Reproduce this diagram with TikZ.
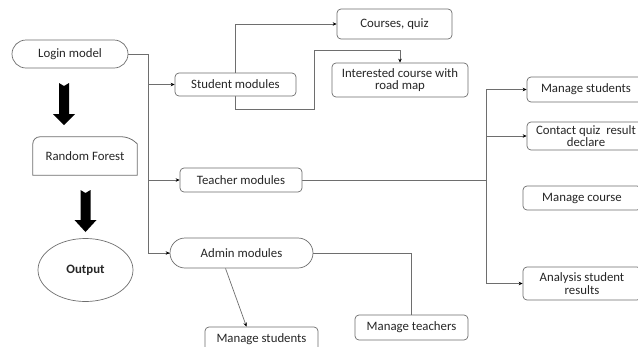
\documentclass[tikz,border=0pt]{standalone}
\usepackage{fontspec}
\setmainfont{Carlito}
\usetikzlibrary{arrows.meta,shapes.geometric,backgrounds}
\definecolor{edge}{HTML}{6E6E6E}
\definecolor{txt}{HTML}{262626}
\newcommand\blkarrow[4]{% x, top y, head start y, tip y
  \fill[black] (#1-5,#2) -- (#1,#2+3) -- (#1+5,#2) -- (#1+5,#3) -- (#1+11,#3)
    -- (#1,#4) -- (#1-11,#3) -- (#1-5,#3) -- cycle;}
\begin{document}
\begin{tikzpicture}[x=1pt,y=-1pt,
  font=\fontsize{12.8}{14.5}\selectfont, text=txt,
  box/.style={draw=edge, line width=0.7pt, fill=white, rounded corners=4pt, inner sep=1pt, align=center},
  stad/.style={draw=edge, line width=0.7pt, fill=white, align=center},
  conn/.style={draw=edge, line width=0.7pt},
  arr/.style={conn, -{Stealth[length=4pt,width=3.5pt,color=black]}}]
\useasboundingbox (0,0) rectangle (638,346);

\node[stad, minimum width=116pt, minimum height=28pt, rounded corners=14pt] (login) at (70,54) {Login model};
\node[minimum width=104pt, minimum height=38pt] (rf) at (85,156) {Random Forest};
\node[stad, ellipse, minimum width=95pt, minimum height=63pt, inner sep=0pt] (out) at (85.5,270) {\bfseries Output};

\node[box, minimum width=121pt, minimum height=23pt] (student) at (235.5,84.5) {Student modules};
\node[box, minimum width=122pt, minimum height=24pt] (teacher) at (241,180) {Teacher modules};
\node[stad, minimum width=143pt, minimum height=30pt, rounded corners=15pt] (admin) at (241.5,253) {Admin modules};

\node[box, minimum width=115pt, minimum height=30pt] (courses) at (394.5,24) {Courses, quiz};
\node[box, minimum width=136pt, minimum height=34pt, inner sep=0pt] (interested) at (400,80) {Interested course with\\[-2pt]road map};

\node[box, minimum width=118pt, minimum height=25pt] (mstud1) at (586,89.5) {Manage students};
\node[box, minimum width=118pt, minimum height=28pt, inner sep=0pt] (contact) at (586,136) {Contact quiz\ \ result\\[-2pt]declare};
\node[box, minimum width=118pt, minimum height=24pt] (mcourse) at (582,198) {Manage course};
\node[box, minimum width=118pt, minimum height=33pt, inner sep=0pt] (analysis) at (582,283.5) {Analysis student\\[-2pt]results};

\node[box, minimum width=113pt, minimum height=25pt] (mteach) at (411.5,327.5) {Manage teachers};
\node[box, minimum width=113pt, minimum height=25pt] (mstud2) at (261.5,339.5) {Manage students};

% Random Forest outline
\draw[edge, line width=0.8pt] (rf.south west) {[rounded corners=7pt] -- (rf.north west) -- ([xshift=-8pt]rf.north east)} -- ([yshift=-7pt]rf.north east) -- (rf.south east) -- cycle;

% block arrows
\blkarrow{64}{83}{114}{125}
\blkarrow{85.5}{190}{220}{232}

\coordinate (lb) at (148,54);
\coordinate (s1) at (314,109);
\coordinate (s2) at (314,50);
\coordinate (tb) at (486,180);

\begin{scope}[on background layer]
\fill[white] (0,0) rectangle (638,346);
\draw[conn] (login.east) -- (lb) |- (admin.west);
\draw[arr] (lb) |- (student.west);
\draw[arr] (lb) |- (teacher.west);
\draw[arr] (lb |- admin.west) -- (admin.west);
\draw[arr] (student.center) |- (courses.west);
\draw[arr] (student.center) |- (s1) -- (s2) -| (interested.north);
\draw[conn] (teacher.east) -- (tb);
\draw[arr] (tb) |- (mstud1.west);
\draw[arr] (tb) |- (contact.west);
\draw[arr] (tb) |- (analysis.west);
\draw[conn] (admin.east) -| (mteach.north);
\draw[arr] ([xshift=-16pt]admin.south) -- ([xshift=-15pt]mstud2.north);
\end{scope}
\end{tikzpicture}
\end{document}
